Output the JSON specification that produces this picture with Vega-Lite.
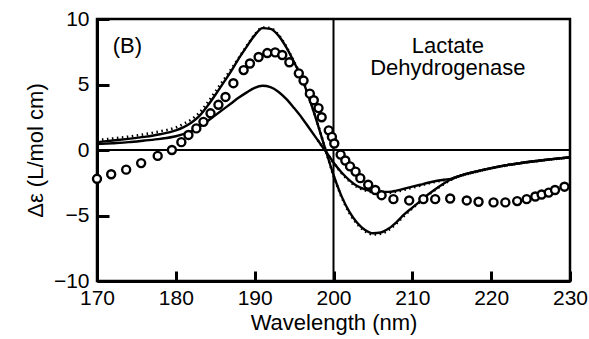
{
  "$schema": "https://vega.github.io/schema/vega-lite/v6.json",
  "width": 473,
  "height": 262,
  "autosize": {"type": "none"},
  "padding": {"left": 97, "top": 19, "right": 19, "bottom": 58},
  "background": "white",
  "config": {
    "font": "Liberation Sans",
    "view": {"stroke": "black", "strokeWidth": 2.5},
    "axis": {
      "grid": false,
      "labelFlush": false,
      "domainColor": "black",
      "domainWidth": 3,
      "tickColor": "black",
      "tickWidth": 3,
      "labelColor": "black",
      "titleColor": "black",
      "labelFont": "Liberation Sans",
      "titleFont": "Liberation Sans",
      "labelFontSize": 21,
      "titleFontSize": 22,
      "titleFontWeight": "normal"
    }
  },
  "datasets": {
    "solid": [
      {"s": "H", "x": 170, "y": 0.6}, {"s": "H", "x": 172, "y": 0.72}, {"s": "H", "x": 174, "y": 0.85}, {"s": "H", "x": 176, "y": 1.0},
      {"s": "H", "x": 178, "y": 1.2}, {"s": "H", "x": 180, "y": 1.5}, {"s": "H", "x": 181, "y": 1.75}, {"s": "H", "x": 182, "y": 2.1},
      {"s": "H", "x": 183, "y": 2.6}, {"s": "H", "x": 184, "y": 3.35}, {"s": "H", "x": 185, "y": 4.2}, {"s": "H", "x": 186, "y": 5.1},
      {"s": "H", "x": 187, "y": 6.0}, {"s": "H", "x": 188, "y": 7.0}, {"s": "H", "x": 189, "y": 7.9}, {"s": "H", "x": 190, "y": 8.75},
      {"s": "H", "x": 191, "y": 9.3}, {"s": "H", "x": 192, "y": 9.25}, {"s": "H", "x": 193, "y": 8.75}, {"s": "H", "x": 194, "y": 7.85},
      {"s": "H", "x": 195, "y": 6.7}, {"s": "H", "x": 196, "y": 5.45}, {"s": "H", "x": 197, "y": 3.8}, {"s": "H", "x": 198, "y": 1.95},
      {"s": "H", "x": 199, "y": 0.0}, {"s": "H", "x": 200, "y": -1.9}, {"s": "H", "x": 201, "y": -3.5}, {"s": "H", "x": 202, "y": -4.7},
      {"s": "H", "x": 203, "y": -5.55}, {"s": "H", "x": 204, "y": -6.1}, {"s": "H", "x": 205, "y": -6.35}, {"s": "H", "x": 206, "y": -6.3},
      {"s": "H", "x": 207, "y": -6.0}, {"s": "H", "x": 208, "y": -5.5}, {"s": "H", "x": 209, "y": -4.9}, {"s": "H", "x": 210, "y": -4.4},
      {"s": "H", "x": 211, "y": -3.9}, {"s": "H", "x": 212, "y": -3.4}, {"s": "H", "x": 213, "y": -2.95}, {"s": "H", "x": 214, "y": -2.55},
      {"s": "H", "x": 215, "y": -2.2}, {"s": "H", "x": 216, "y": -1.97}, {"s": "H", "x": 218, "y": -1.65}, {"s": "H", "x": 220, "y": -1.38},
      {"s": "H", "x": 222, "y": -1.15}, {"s": "H", "x": 224, "y": -0.97}, {"s": "H", "x": 226, "y": -0.82}, {"s": "H", "x": 228, "y": -0.68},
      {"s": "H", "x": 230, "y": -0.56},
      {"s": "L", "x": 170, "y": 0.45}, {"s": "L", "x": 172, "y": 0.52}, {"s": "L", "x": 174, "y": 0.6}, {"s": "L", "x": 176, "y": 0.72},
      {"s": "L", "x": 178, "y": 0.85}, {"s": "L", "x": 180, "y": 1.05}, {"s": "L", "x": 182, "y": 1.45}, {"s": "L", "x": 183, "y": 1.8},
      {"s": "L", "x": 184, "y": 2.2}, {"s": "L", "x": 185, "y": 2.65}, {"s": "L", "x": 186, "y": 3.1}, {"s": "L", "x": 187, "y": 3.55},
      {"s": "L", "x": 188, "y": 4.0}, {"s": "L", "x": 189, "y": 4.4}, {"s": "L", "x": 190, "y": 4.75}, {"s": "L", "x": 191, "y": 4.9},
      {"s": "L", "x": 192, "y": 4.8}, {"s": "L", "x": 193, "y": 4.45}, {"s": "L", "x": 194, "y": 3.9}, {"s": "L", "x": 195, "y": 3.2},
      {"s": "L", "x": 196, "y": 2.45}, {"s": "L", "x": 197, "y": 1.6}, {"s": "L", "x": 198, "y": 0.75}, {"s": "L", "x": 199, "y": -0.1},
      {"s": "L", "x": 200, "y": -0.95}, {"s": "L", "x": 201, "y": -1.7}, {"s": "L", "x": 202, "y": -2.3}, {"s": "L", "x": 203, "y": -2.75},
      {"s": "L", "x": 204, "y": -3.0}, {"s": "L", "x": 205, "y": -3.15}, {"s": "L", "x": 206, "y": -3.2}, {"s": "L", "x": 207, "y": -3.2},
      {"s": "L", "x": 208, "y": -3.1}, {"s": "L", "x": 209, "y": -2.95}, {"s": "L", "x": 210, "y": -2.8}, {"s": "L", "x": 211, "y": -2.65},
      {"s": "L", "x": 212, "y": -2.5}, {"s": "L", "x": 213, "y": -2.37}, {"s": "L", "x": 214, "y": -2.27}, {"s": "L", "x": 215, "y": -2.18},
      {"s": "L", "x": 216, "y": -1.97}, {"s": "L", "x": 218, "y": -1.65}, {"s": "L", "x": 220, "y": -1.38}, {"s": "L", "x": 222, "y": -1.15},
      {"s": "L", "x": 224, "y": -0.97}, {"s": "L", "x": 226, "y": -0.82}, {"s": "L", "x": 228, "y": -0.68}, {"s": "L", "x": 230, "y": -0.56}
    ],
    "dotted": [
      {"s": "Hd", "x": 170, "y": 0.75}, {"s": "Hd", "x": 172, "y": 0.88}, {"s": "Hd", "x": 174, "y": 1.02}, {"s": "Hd", "x": 176, "y": 1.2},
      {"s": "Hd", "x": 178, "y": 1.42}, {"s": "Hd", "x": 180, "y": 1.72}, {"s": "Hd", "x": 181, "y": 2.0}, {"s": "Hd", "x": 182, "y": 2.35},
      {"s": "Hd", "x": 183, "y": 2.85}, {"s": "Hd", "x": 184, "y": 3.6}, {"s": "Hd", "x": 185, "y": 4.45}, {"s": "Hd", "x": 186, "y": 5.3},
      {"s": "Hd", "x": 187, "y": 6.15}, {"s": "Hd", "x": 188, "y": 7.05}, {"s": "Hd", "x": 189, "y": 7.95}, {"s": "Hd", "x": 190, "y": 8.8},
      {"s": "Hd", "x": 191, "y": 9.35}, {"s": "Hd", "x": 192, "y": 9.3}, {"s": "Hd", "x": 193, "y": 8.8}, {"s": "Hd", "x": 194, "y": 7.9},
      {"s": "Hd", "x": 195, "y": 6.75}, {"s": "Hd", "x": 196, "y": 5.5}, {"s": "Hd", "x": 197, "y": 3.85}, {"s": "Hd", "x": 198, "y": 2.0},
      {"s": "Hd", "x": 199, "y": 0.0}, {"s": "Hd", "x": 200, "y": -1.95}, {"s": "Hd", "x": 201, "y": -3.55}, {"s": "Hd", "x": 202, "y": -4.8},
      {"s": "Hd", "x": 203, "y": -5.65}, {"s": "Hd", "x": 204, "y": -6.2}, {"s": "Hd", "x": 205, "y": -6.45}, {"s": "Hd", "x": 206, "y": -6.4},
      {"s": "Hd", "x": 207, "y": -6.1}, {"s": "Hd", "x": 208, "y": -5.6}, {"s": "Hd", "x": 209, "y": -5.0}, {"s": "Hd", "x": 210, "y": -4.45},
      {"s": "Hd", "x": 211, "y": -3.95}, {"s": "Hd", "x": 212, "y": -3.45}, {"s": "Hd", "x": 213, "y": -3.0}, {"s": "Hd", "x": 214, "y": -2.6},
      {"s": "Hd", "x": 215, "y": -2.25}, {"s": "Hd", "x": 216, "y": -2.0}, {"s": "Hd", "x": 218, "y": -1.68}, {"s": "Hd", "x": 220, "y": -1.4},
      {"s": "Hd", "x": 222, "y": -1.17}, {"s": "Hd", "x": 224, "y": -0.98}, {"s": "Hd", "x": 226, "y": -0.83}, {"s": "Hd", "x": 228, "y": -0.69},
      {"s": "Hd", "x": 230, "y": -0.57},
      {"s": "Ld", "x": 198, "y": 0.75}, {"s": "Ld", "x": 199, "y": -0.1}, {"s": "Ld", "x": 200, "y": -0.97}, {"s": "Ld", "x": 201, "y": -1.75},
      {"s": "Ld", "x": 202, "y": -2.37}, {"s": "Ld", "x": 203, "y": -2.83}, {"s": "Ld", "x": 204, "y": -3.08}, {"s": "Ld", "x": 205, "y": -3.23},
      {"s": "Ld", "x": 206, "y": -3.28}, {"s": "Ld", "x": 207, "y": -3.28}, {"s": "Ld", "x": 208, "y": -3.18}, {"s": "Ld", "x": 209, "y": -3.03},
      {"s": "Ld", "x": 210, "y": -2.88}, {"s": "Ld", "x": 211, "y": -2.72}, {"s": "Ld", "x": 212, "y": -2.56}, {"s": "Ld", "x": 213, "y": -2.42},
      {"s": "Ld", "x": 214, "y": -2.3}, {"s": "Ld", "x": 215, "y": -2.2}, {"s": "Ld", "x": 216, "y": -2.0}, {"s": "Ld", "x": 218, "y": -1.68},
      {"s": "Ld", "x": 220, "y": -1.4}, {"s": "Ld", "x": 222, "y": -1.17}, {"s": "Ld", "x": 224, "y": -0.98}, {"s": "Ld", "x": 226, "y": -0.83},
      {"s": "Ld", "x": 228, "y": -0.69}, {"s": "Ld", "x": 230, "y": -0.57}
    ],
    "circles": [
      {"x": 170.0, "y": -2.2}, {"x": 171.8, "y": -1.85}, {"x": 173.7, "y": -1.5}, {"x": 175.6, "y": -1.0},
      {"x": 177.7, "y": -0.45}, {"x": 179.5, "y": 0.0}, {"x": 180.7, "y": 0.6}, {"x": 181.6, "y": 1.15},
      {"x": 182.6, "y": 1.65}, {"x": 183.5, "y": 2.15}, {"x": 184.4, "y": 2.8}, {"x": 185.4, "y": 3.45},
      {"x": 186.3, "y": 4.05}, {"x": 187.3, "y": 5.1}, {"x": 188.6, "y": 6.1}, {"x": 189.4, "y": 6.6},
      {"x": 190.5, "y": 7.1}, {"x": 191.6, "y": 7.4}, {"x": 192.6, "y": 7.45}, {"x": 193.5, "y": 7.25},
      {"x": 194.4, "y": 6.7}, {"x": 195.6, "y": 5.85}, {"x": 196.2, "y": 5.3}, {"x": 197.0, "y": 4.3},
      {"x": 197.5, "y": 3.8}, {"x": 198.1, "y": 3.2}, {"x": 198.5, "y": 2.5}, {"x": 199.4, "y": 1.5},
      {"x": 199.8, "y": 1.0}, {"x": 200.1, "y": 0.5}, {"x": 200.9, "y": -0.35}, {"x": 201.5, "y": -0.8},
      {"x": 202.1, "y": -1.25}, {"x": 202.8, "y": -1.65}, {"x": 203.4, "y": -2.15}, {"x": 204.4, "y": -2.65},
      {"x": 205.3, "y": -3.05}, {"x": 206.1, "y": -3.45}, {"x": 207.6, "y": -3.75}, {"x": 209.6, "y": -3.85},
      {"x": 211.4, "y": -3.75}, {"x": 212.9, "y": -3.75}, {"x": 214.8, "y": -3.7}, {"x": 216.9, "y": -3.85},
      {"x": 218.4, "y": -3.95}, {"x": 220.3, "y": -4.0}, {"x": 221.8, "y": -4.0}, {"x": 223.3, "y": -3.9},
      {"x": 224.5, "y": -3.75}, {"x": 225.6, "y": -3.55}, {"x": 226.4, "y": -3.4}, {"x": 227.3, "y": -3.25},
      {"x": 228.1, "y": -3.05}, {"x": 229.3, "y": -2.8}
    ],
    "labels": [
      {"x": 173.85, "y": 7.4, "label": "(B)"},
      {"x": 214.5, "y": 7.4, "label": "Lactate\nDehydrogenase"}
    ],
    "hrule": [{"y": 0}],
    "vrule": [{"x": 200}]
  },
  "layer": [
    {
      "data": {"name": "hrule"},
      "mark": {"type": "rule", "color": "black", "strokeWidth": 2},
      "encoding": {
        "y": {
          "field": "y", "type": "quantitative",
          "scale": {"domain": [-10, 10], "nice": false, "zero": false},
          "axis": {"values": [-10, -5, 0, 5, 10], "tickSize": -12, "labelPadding": 20, "title": "Δε (L/mol cm)", "titlePadding": 6}
        }
      }
    },
    {
      "data": {"name": "vrule"},
      "mark": {"type": "rule", "color": "black", "strokeWidth": 2},
      "encoding": {
        "x": {
          "field": "x", "type": "quantitative",
          "scale": {"domain": [170, 230], "nice": false, "zero": false},
          "axis": {"values": [170, 180, 190, 200, 210, 220, 230], "tickSize": -10, "labelPadding": 16, "title": "Wavelength (nm)", "titlePadding": 4}
        }
      }
    },
    {
      "data": {"name": "solid"},
      "mark": {"type": "line", "color": "black", "strokeWidth": 2.4, "interpolate": "monotone"},
      "encoding": {
        "x": {
          "field": "x", "type": "quantitative",
          "scale": {"domain": [170, 230], "nice": false, "zero": false},
          "axis": {"values": [170, 180, 190, 200, 210, 220, 230], "tickSize": -10, "labelPadding": 16, "title": "Wavelength (nm)", "titlePadding": 4}
        },
        "y": {
          "field": "y", "type": "quantitative",
          "scale": {"domain": [-10, 10], "nice": false, "zero": false},
          "axis": {"values": [-10, -5, 0, 5, 10], "tickSize": -12, "labelPadding": 20, "title": "Δε (L/mol cm)", "titlePadding": 6}
        },
        "detail": {"field": "s"}
      }
    },
    {
      "data": {"name": "dotted"},
      "mark": {"type": "line", "color": "black", "strokeWidth": 2.6, "strokeDash": [1.5, 3.5], "interpolate": "monotone"},
      "encoding": {
        "x": {
          "field": "x", "type": "quantitative",
          "scale": {"domain": [170, 230], "nice": false, "zero": false},
          "axis": {"values": [170, 180, 190, 200, 210, 220, 230], "tickSize": -10, "labelPadding": 16, "title": "Wavelength (nm)", "titlePadding": 4}
        },
        "y": {
          "field": "y", "type": "quantitative",
          "scale": {"domain": [-10, 10], "nice": false, "zero": false},
          "axis": {"values": [-10, -5, 0, 5, 10], "tickSize": -12, "labelPadding": 20, "title": "Δε (L/mol cm)", "titlePadding": 6}
        },
        "detail": {"field": "s"}
      }
    },
    {
      "data": {"name": "circles"},
      "mark": {"type": "point", "shape": "circle", "size": 64, "filled": true, "fill": "white", "stroke": "black", "strokeWidth": 2.4, "opacity": 1},
      "encoding": {
        "x": {
          "field": "x", "type": "quantitative",
          "scale": {"domain": [170, 230], "nice": false, "zero": false},
          "axis": {"values": [170, 180, 190, 200, 210, 220, 230], "tickSize": -10, "labelPadding": 16, "title": "Wavelength (nm)", "titlePadding": 4}
        },
        "y": {
          "field": "y", "type": "quantitative",
          "scale": {"domain": [-10, 10], "nice": false, "zero": false},
          "axis": {"values": [-10, -5, 0, 5, 10], "tickSize": -12, "labelPadding": 20, "title": "Δε (L/mol cm)", "titlePadding": 6}
        }
      }
    },
    {
      "data": {"name": "labels"},
      "mark": {"type": "text", "align": "center", "baseline": "alphabetic", "fontSize": 22, "lineBreak": "\n", "lineHeight": 22, "color": "black", "font": "Liberation Sans"},
      "encoding": {
        "x": {
          "field": "x", "type": "quantitative",
          "scale": {"domain": [170, 230], "nice": false, "zero": false},
          "axis": {"values": [170, 180, 190, 200, 210, 220, 230], "tickSize": -10, "labelPadding": 16, "title": "Wavelength (nm)", "titlePadding": 4}
        },
        "y": {
          "field": "y", "type": "quantitative",
          "scale": {"domain": [-10, 10], "nice": false, "zero": false},
          "axis": {"values": [-10, -5, 0, 5, 10], "tickSize": -12, "labelPadding": 20, "title": "Δε (L/mol cm)", "titlePadding": 6}
        },
        "text": {"field": "label"}
      }
    }
  ]
}
